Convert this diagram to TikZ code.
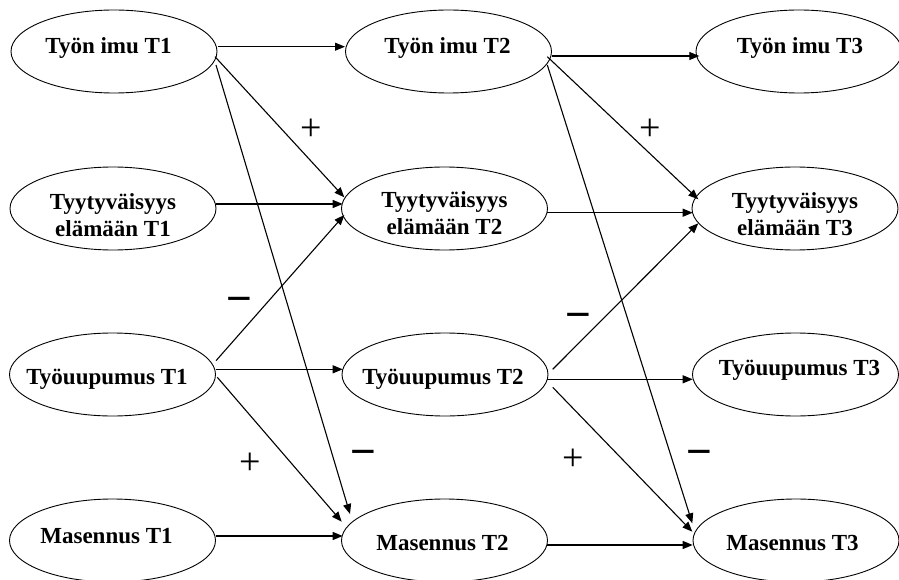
\documentclass[tikz,border=0pt]{standalone}
\usepackage{fontspec}
\setmainfont{Liberation Serif}
\newfontfamily\signsans{Liberation Sans}
\usetikzlibrary{shapes.geometric,arrows.meta}

\begin{document}
\begin{tikzpicture}[x=1pt,y=-1pt,
  oval/.style={draw, ellipse, line width=0.9pt, minimum width=206pt,
    minimum height=83pt, inner sep=0pt, outer sep=0pt},
  lab/.style={font=\bfseries\fontsize{23}{27}\selectfont, align=center, inner sep=0pt},
  arr/.style={line width=1.1pt, -{Triangle[length=10pt,width=8pt]}},
  plussign/.style={font=\fontsize{38}{38}\selectfont, inner sep=0pt},
  minussign/.style={font=\signsans\fontsize{44}{44}\selectfont, inner sep=0pt}]
\useasboundingbox (0,0) rectangle (899,580);

% ---- time 1
\node[oval, label={[lab,shift={(-5.5,-3.5)}]center:Työn imu T1}] (imu1) at (114,51.5) {};
\node[oval, label={[lab,shift={(0,6.5)}]center:Tyytyväisyys\\elämään T1}] (tyy1) at (113,208.5) {};
\node[oval, label={[lab,shift={(-5.5,4.5)}]center:Työuupumus T1}] (uup1) at (112.5,374.5) {};
\node[oval, label={[lab,shift={(-6,-4.5)}]center:Masennus T1}] (mas1) at (112.5,540.5) {};

% ---- time 2
\node[oval, label={[lab,shift={(-1,-3.5)}]center:Työn imu T2}] (imu2) at (448.5,51.5) {};
\node[oval, label={[lab,shift={(0,5)}]center:Tyytyväisyys\\elämään T2}] (tyy2) at (444.5,208.5) {};
\node[oval, label={[lab,shift={(-2,5)}]center:Työuupumus T2}] (uup2) at (445,374.5) {};
\node[oval, label={[lab,shift={(-2,2.5)}]center:Masennus T2}] (mas2) at (444.5,540.5) {};

% ---- time 3
\node[oval, label={[lab,shift={(1,-3.5)}]center:Työn imu T3}] (imu3) at (799,51.5) {};
\node[oval, label={[lab,shift={(0,6)}]center:Tyytyväisyys\\elämään T3}] (tyy3) at (795,208.5) {};
\node[oval, label={[lab,shift={(4,-4.5)}]center:Työuupumus T3}] (uup3) at (795.5,374.5) {};
\node[oval, label={[lab,shift={(-3.5,2.5)}]center:Masennus T3}] (mas3) at (796,540.5) {};

% ---- paths from time 1 to time 2
\draw[arr] ([shift={(104.3,-4.8)}]imu1.center) -- ([shift={(-103.5,-4.8)}]imu2.center);
\draw[arr] ([shift={(101,5.2)}]imu1.center) -- ([shift={(-100.2,-11.2)}]tyy2.center);
\draw[arr] ([shift={(102,13.5)}]imu1.center) -- ([shift={(-94.5,-26.5)}]mas2.center);
\draw[arr] ([shift={(103,-4.5)}]tyy1.center) -- ([shift={(-101.8,-4.5)}]tyy2.center);
\draw[arr] ([shift={(103.5,-13.8)}]uup1.center) -- ([shift={(-100.2,6.5)}]tyy2.center);
\draw[arr] ([shift={(103.5,-5.2)}]uup1.center) -- ([shift={(-102.3,-5.2)}]uup2.center);
\draw[arr] ([shift={(104.8,2.8)}]uup1.center) -- ([shift={(-102.8,-18.8)}]mas2.center);
\draw[arr] ([shift={(103.5,-4.5)}]mas1.center) -- ([shift={(-101.8,-4.5)}]mas2.center);

% ---- paths from time 2 to time 3
\draw[arr] ([shift={(103.2,4.5)}]imu2.center) -- ([shift={(-99.7,4.5)}]imu3.center);
\draw[arr] ([shift={(98.8,5.2)}]imu2.center) -- ([shift={(-96.7,-9.2)}]tyy3.center);
\draw[arr] ([shift={(98.8,13.5)}]imu2.center) -- ([shift={(-103.7,-17.2)}]mas3.center);
\draw[arr] ([shift={(102.2,4.2)}]tyy2.center) -- ([shift={(-102.3,4.2)}]tyy3.center);
\draw[arr] ([shift={(107.7,-5.2)}]uup2.center) -- ([shift={(-96.7,14.8)}]tyy3.center);
\draw[arr] ([shift={(101.7,4.8)}]uup2.center) -- ([shift={(-102.8,4.8)}]uup3.center);
\draw[arr] ([shift={(107.7,12.8)}]uup2.center) -- ([shift={(-103.7,-8.8)}]mas3.center);
\draw[arr] ([shift={(102.2,4.5)}]mas2.center) -- ([shift={(-103.3,4.5)}]mas3.center);

% ---- signs of the effects
\node[plussign] (p1) at (311.7,129.3) {+};
\node[plussign] (p2) at (650,130) {+};
\node[plussign] (p3) at (250,463.3) {+};
\node[plussign] (p4) at (573.3,460) {+};
\node[minussign] (m1) at (239,305) {−};
\node[minussign] (m2) at (578.3,321.3) {−};
\node[minussign] (m3) at (363.3,458) {−};
\node[minussign] (m4) at (699.3,458) {−};
\end{tikzpicture}
\end{document}
